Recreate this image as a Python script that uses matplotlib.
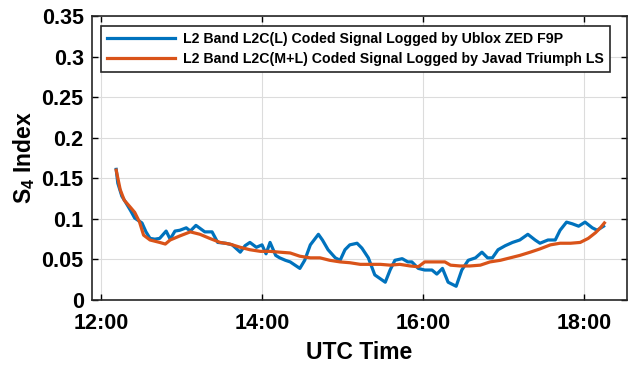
import matplotlib
matplotlib.use("Agg")
import matplotlib.pyplot as plt
from matplotlib.ticker import FixedLocator, FuncFormatter

# UTC time in decimal hours, S4 index values
ublox_time = [12.19, 12.21, 12.26, 12.31, 12.37, 12.42, 12.51, 12.56, 12.61, 12.67,
              12.73, 12.81, 12.86, 12.92, 12.98, 13.06, 13.11, 13.18, 13.29, 13.38,
              13.45, 13.55, 13.63, 13.73, 13.79, 13.85, 13.93, 14.00, 14.05, 14.10,
              14.17, 14.22, 14.29, 14.35, 14.47, 14.53, 14.60, 14.70, 14.75, 14.82,
              14.91, 14.97, 15.03, 15.09, 15.18, 15.24, 15.32, 15.40, 15.53, 15.59,
              15.65, 15.74, 15.81, 15.86, 15.94, 16.02, 16.11, 16.17, 16.24, 16.31,
              16.41, 16.48, 16.56, 16.65, 16.73, 16.80, 16.86, 16.93, 17.02, 17.11,
              17.20, 17.30, 17.39, 17.45, 17.55, 17.64, 17.70, 17.78, 17.85, 17.93,
              18.01, 18.10, 18.16, 18.24]
ublox_s4 = [0.161, 0.144, 0.128, 0.120, 0.110, 0.101, 0.095, 0.084, 0.076, 0.075,
            0.076, 0.085, 0.075, 0.085, 0.086, 0.089, 0.085, 0.092, 0.084, 0.084,
            0.071, 0.070, 0.068, 0.059, 0.067, 0.071, 0.065, 0.068, 0.057, 0.071,
            0.055, 0.052, 0.049, 0.047, 0.039, 0.049, 0.068, 0.081, 0.074, 0.062,
            0.052, 0.049, 0.062, 0.068, 0.070, 0.064, 0.052, 0.031, 0.022, 0.037,
            0.049, 0.051, 0.047, 0.047, 0.039, 0.037, 0.037, 0.032, 0.039, 0.022,
            0.017, 0.037, 0.049, 0.052, 0.059, 0.052, 0.052, 0.062, 0.067, 0.071,
            0.074, 0.081, 0.074, 0.070, 0.074, 0.074, 0.086, 0.096, 0.094, 0.091,
            0.096, 0.089, 0.086, 0.091]

javad_time = [12.19, 12.24, 12.29, 12.36, 12.42, 12.48, 12.53, 12.61, 12.73, 12.80,
              12.86, 12.98, 13.11, 13.23, 13.35, 13.48, 13.60, 13.73, 13.85, 13.98,
              14.10, 14.22, 14.35, 14.47, 14.60, 14.72, 14.84, 14.97, 15.09, 15.22,
              15.34, 15.47, 15.59, 15.71, 15.84, 15.94, 16.02, 16.15, 16.27, 16.34,
              16.46, 16.58, 16.71, 16.83, 16.96, 17.08, 17.20, 17.33, 17.45, 17.58,
              17.70, 17.83, 17.95, 18.05, 18.14, 18.20, 18.25]
javad_s4 = [0.160, 0.136, 0.123, 0.115, 0.108, 0.096, 0.080, 0.074, 0.071, 0.069,
            0.074, 0.079, 0.084, 0.081, 0.076, 0.071, 0.069, 0.065, 0.062, 0.060,
            0.060, 0.059, 0.058, 0.054, 0.052, 0.052, 0.049, 0.047, 0.046, 0.044,
            0.044, 0.044, 0.043, 0.044, 0.042, 0.041, 0.047, 0.047, 0.047, 0.043,
            0.042, 0.042, 0.043, 0.047, 0.049, 0.052, 0.055, 0.059, 0.063, 0.068,
            0.070, 0.070, 0.071, 0.076, 0.083, 0.089, 0.095]

labels = ["L2 Band L2C(L) Coded Signal Logged by Ublox ZED F9P",
          "L2 Band L2C(M+L) Coded Signal Logged by Javad Triumph LS"]
x_ticks = [12, 14, 16, 18]
y_ticks = [0, 0.05, 0.1, 0.15, 0.2, 0.25, 0.3, 0.35]

plt.rcParams["font.family"] = ["Liberation Sans", "DejaVu Sans"]
plt.rcParams["font.weight"] = "bold"
plt.rcParams["mathtext.fontset"] = "custom"
plt.rcParams["mathtext.rm"] = "Liberation Sans:bold"
plt.rcParams["mathtext.bf"] = "Liberation Sans:bold"

fig = plt.figure(figsize=(6.32, 3.70), dpi=100)
ax = fig.add_axes([0.1456, 0.189, 0.8464, 0.768])

ax.plot(ublox_time, ublox_s4, color="#0072BD", lw=2.3, label=labels[0], zorder=3)
ax.plot(javad_time, javad_s4, color="#D95319", lw=2.3, label=labels[1], zorder=3)

ax.set_xlim(11.89, 18.53)
ax.set_ylim(0, 0.35)
ax.xaxis.set_major_locator(FixedLocator(x_ticks))
ax.yaxis.set_major_locator(FixedLocator(y_ticks))
ax.xaxis.set_major_formatter(FuncFormatter(lambda v, p: "%d:00" % int(round(v))))
ax.yaxis.set_major_formatter(FuncFormatter(lambda v, p: "%g" % v))
ax.tick_params(direction="in", top=True, right=True, length=4, width=1,
               labelsize=15.5)
ax.tick_params(axis="x", pad=9)
ax.tick_params(axis="y", pad=6)
for lab in ax.get_xticklabels() + ax.get_yticklabels():
    lab.set_fontweight("bold")
ax.grid(True, color="#dcdcdc", lw=0.8)
for s in ax.spines.values():
    s.set_linewidth(1.2)
    s.set_color("#262626")

ax.set_xlabel("UTC Time", fontsize=16.5, fontweight="bold", labelpad=5)
ax.set_ylabel(r"$\mathregular{S_4}$ Index", fontsize=16.5, fontweight="bold", labelpad=3)

leg = ax.legend(loc="upper left", bbox_to_anchor=(0.017, 0.965), fontsize=10.2,
                frameon=True, fancybox=False, edgecolor="#262626", framealpha=1,
                handlelength=4.8, handletextpad=0.5, borderpad=0.45,
                labelspacing=0.4, borderaxespad=0)
leg.get_frame().set_linewidth(1.2)
for t in leg.get_texts():
    t.set_fontweight("bold")

fig.savefig("out.png", dpi=100)
